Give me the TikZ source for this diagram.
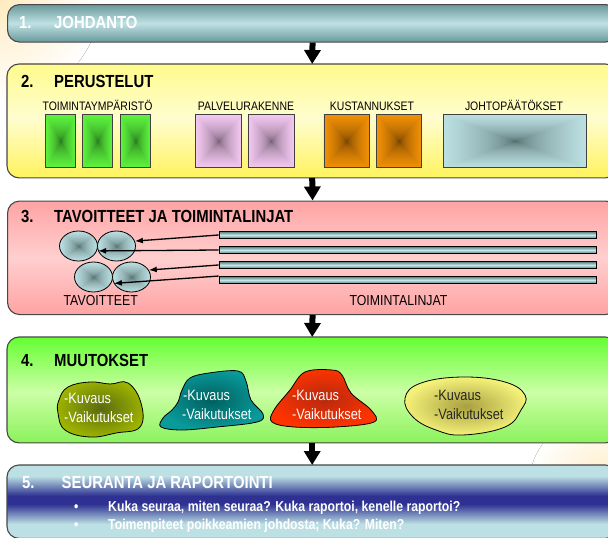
\documentclass[tikz,border=0pt]{standalone}
\usepackage{fontspec}
\setmainfont{Liberation Sans}[FakeStretch=0.85]
\usetikzlibrary{shapes.geometric,arrows.meta}
% rectangular "from centre" shading: dark centre (#2-#4) to light edge (#5-#7)
\newcommand\boxshade[7]{%
 \pgfdeclarefunctionalshading{#1}{\pgfpoint{0bp}{0bp}}{\pgfpoint{100bp}{100bp}}{}{%
 50 sub abs exch 50 sub abs 2 copy sub abs add add 2 div 25 div sqrt
 dup #5 #2 sub mul #2 add exch
 dup #6 #3 sub mul #3 add exch
 #7 #4 sub mul #4 add
 }}
\boxshade{gsh}{0.12}{0.40}{0.10}{0.37}{0.96}{0.24}
\boxshade{psh}{0.40}{0.32}{0.40}{0.96}{0.79}{0.95}
\boxshade{osh}{0.40}{0.22}{0.00}{0.95}{0.57}{0.02}
\boxshade{tsh}{0.28}{0.38}{0.38}{0.74}{0.88}{0.89}
% horizontal strips: from y #1 (colour #3) to y #2 (colour #4)
\newcommand\stripband[4]{%
 \foreach \yy in {#1,...,#2}{%
  \pgfmathtruncatemacro\pp{100*(\yy-#1)/(#2-#1)}%
  \fill[#4!\pp!#3] (0,\yy) rectangle (620,\yy+1.4);}}
\definecolor{bodark}{HTML}{6A999B}
\definecolor{bolight}{HTML}{BFE1E4}
\definecolor{yA}{HTML}{FFFB8C}
\definecolor{yB}{HTML}{FFFDD0}
\definecolor{yC}{HTML}{FFF35C}
\definecolor{rA}{HTML}{FFA3A3}
\definecolor{rB}{HTML}{FFCFCF}
\definecolor{gA}{HTML}{66FF33}
\definecolor{gB}{HTML}{CCFFA6}
\definecolor{gC}{HTML}{8AF25A}
\definecolor{fiveL}{HTML}{BCE0E3}
\definecolor{fiveD}{HTML}{2E3192}
\definecolor{bardark}{HTML}{4F7F80}
\definecolor{barlight}{HTML}{C6E7E9}
\definecolor{glow}{HTML}{FFEBC0}
\definecolor{oliveIn}{HTML}{5A6A10}
\definecolor{oliveOut}{HTML}{9DB300}
\definecolor{tealIn}{HTML}{005F5F}
\definecolor{tealOut}{HTML}{0A9A9A}
\definecolor{redIn}{HTML}{B52A10}
\definecolor{redOut}{HTML}{FF3300}
\definecolor{yelIn}{HTML}{A8A040}
\definecolor{yelOut}{HTML}{F5F27A}
\begin{document}
\begin{tikzpicture}[x=1pt,y=-1pt,
 banner/.style={draw=black!72, line width=1.1pt, rounded corners=12pt, anchor=north west, minimum width=610pt, inner sep=0pt},
 plainbanner/.style={rounded corners=12pt, anchor=north west, minimum width=610pt, inner sep=0pt},
 border/.style={draw=black!72, line width=1.1pt, rounded corners=12pt},
 num/.style={font=\fontsize{17.5}{20}\selectfont\bfseries, anchor=base west, inner sep=0pt},
 sub/.style={font=\fontsize{12.3}{14}\selectfont, anchor=base, inner sep=0pt},
 sq/.style={draw=black!75, line width=0.8pt, shade, minimum height=53pt, minimum width=#1, inner sep=0pt, anchor=north west},
 ell/.style={ellipse, draw=black, line width=0.8pt, shade, shading=tsh, minimum width=38pt, minimum height=30pt, inner sep=0pt},
 bar/.style={draw=black, line width=0.9pt, minimum width=377pt, minimum height=7pt, inner sep=0pt, top color=bardark, bottom color=bardark, middle color=barlight},
 link/.style={line width=1.3pt, -{Latex[length=8pt,width=6pt]}},
 bigarrow/.style={line width=6pt, -{Triangle[width=16pt,length=14pt]}},
 blob/.style={draw=black, line width=0.8pt},
 btxt/.style={font=\fontsize{15}{17}\selectfont, anchor=base west, inner sep=0pt},
 lbl/.style={font=\fontsize{14.5}{17}\selectfont, anchor=base, inner sep=0pt},
 bul/.style={font=\fontsize{14.4}{17}\selectfont\bfseries, anchor=base west, inner sep=0pt, text=white},
]
\clip (0,0) rectangle (608,538);
\fill[white] (0,0) rectangle (608,538);
\fill[inner color=glow, outer color=white] (0,0) circle (100);
\fill[inner color=glow, outer color=white] (608,490) circle (80);

% banners
\node[banner, minimum height=37.5pt, top color=bodark, bottom color=bodark, middle color=bolight] (b1) at (7,4) {};

\node[plainbanner, minimum height=113.5pt] (b2) at (7,64) {};
\begin{scope}
 \clip[rounded corners=12pt] (b2.north west) rectangle (b2.south east);
 \stripband{64}{118}{yA}{yB}
 \stripband{118}{178}{yB}{yC}
\end{scope}
\draw[border] (b2.north west) rectangle (b2.south east);

\node[banner, minimum height=113.5pt, top color=rA, bottom color=rA, middle color=rB] (b3) at (7,200.5) {};

\node[plainbanner, minimum height=105.5pt] (b4) at (7,337) {};
\begin{scope}
 \clip[rounded corners=12pt] (b4.north west) rectangle (b4.south east);
 \stripband{337}{392}{gA}{gB}
 \stripband{392}{443}{gB}{gC}
\end{scope}
\draw[border] (b4.north west) rectangle (b4.south east);

\node[plainbanner, minimum height=73pt] (b5) at (7,465) {};
\begin{scope}
 \clip[rounded corners=12pt] (b5.north west) rectangle (b5.south east);
 \foreach \yy in {465,...,538}{%
  \pgfmathtruncatemacro\pp{min(100,max(0,abs(\yy-500)-4)*5)}%
  \fill[fiveL!\pp!fiveD] (0,\yy) rectangle (620,\yy+1.4);}
\end{scope}
\draw[border] (b5.north west) rectangle (b5.south east);

\draw[bigarrow] (b1.south) -- (b2.north);
\draw[bigarrow] (b2.south) -- (b3.north);
\draw[bigarrow] (b3.south) -- (b4.north);
\draw[bigarrow] (b4.south) -- (b5.north);

% headers
\node[num, text=white] (n1) at (19,28.8) {1.};
\node[num, text=white] (t1) at (54,28.8) {JOHDANTO};
\node[num] (n2) at (21,87.3) {2.};
\node[num] (t2) at (54,87.3) {PERUSTELUT};
\node[num] (n3) at (21,222.3) {3.};
\node[num] (t3) at (54,222.3) {TAVOITTEET JA TOIMINTALINJAT};
\node[num] (n4) at (21,366.3) {4.};
\node[num] (t4) at (54,366.3) {MUUTOKSET};
\node[num, text=white] (n5) at (22,488.8) {5.};
\node[num, text=white] (t5) at (61.5,488.8) {SEURANTA JA RAPORTOINTI};

% box 2
\node[sub] (l1) at (97.5,110.4) {TOIMINTAYMPÄRISTÖ};
\node[sub] (l2) at (246,110.4) {PALVELURAKENNE};
\node[sub] (l3) at (372,110.4) {KUSTANNUKSET};
\node[sub] (l4) at (514,110.4) {JOHTOPÄÄTÖKSET};
\node[sq=30pt, shading=gsh] (g1) at (45,114) {};
\node[sq=30pt, shading=gsh] (g2) at (82,114) {};
\node[sq=30pt, shading=gsh] (g3) at (120,114) {};
\node[sq=46pt, shading=psh] (p1) at (195,114) {};
\node[sq=46pt, shading=psh] (p2) at (247.5,114) {};
\node[sq=45pt, shading=osh] (o1) at (323.5,114) {};
\node[sq=45pt, shading=osh] (o2) at (376,114) {};
\node[sq=143pt, shading=tsh] (j1) at (443,114) {};

% box 3
\node[ell] (e1) at (78.5,246) {};
\node[ell] (e2) at (116.5,246) {};
\node[ell] (e3) at (93.5,277) {};
\node[ell] (e4) at (131.5,277) {};
\node[bar] (bar1) at (407.5,235) {};
\node[bar] (bar2) at (407.5,250) {};
\node[bar] (bar3) at (407.5,265) {};
\node[bar] (bar4) at (407.5,280) {};
\draw[link] (bar1.west) -- (e2.15);
\draw[link] (bar2.west) -- (e2.195);
\draw[link] (bar3.west) -- (e4.22);
\draw[link] (bar4.north west) -- (e4.200);
\node[lbl] (tav) at (100.7,305.7) {TAVOITTEET};
\node[lbl] (toi) at (398.5,305.7) {TOIMINTALINJAT};

% box 4
\path[blob, inner color=oliveIn, outer color=oliveOut] plot[smooth cycle, tension=0.7] coordinates
 {(59,400) (68,387) (90,382) (110,384) (128,383) (141,403) (140,427) (116,433) (90,437) (65,430) (58,413)};
\path[blob, inner color=tealIn, outer color=tealOut] plot[smooth cycle, tension=0.6] coordinates
 {(182,390) (190,378) (209,373) (238,371) (246,381) (251,400) (263,414) (257,422) (217,427) (182,430) (161,427) (163,418) (172,410) (178,402)};
\path[blob, inner color=redIn, outer color=redOut] plot[smooth cycle, tension=0.6] coordinates
 {(290,390) (305,372) (332,370) (342,375) (351,393) (371,410) (374,422) (336,427) (294,427) (272,422) (274,410)};
\path[blob, inner color=yelIn, outer color=yelOut] plot[smooth cycle, tension=0.7] coordinates
 {(405,398) (421,383) (463,377) (505,382) (525,395) (521,410) (505,427) (463,435) (436,430) (413,417)};
\node[btxt, text=white] (k1) at (64,403.4) {-Kuvaus};
\node[btxt, text=white] (v1) at (64,422.4) {-Vaikutukset};
\node[btxt, text=white] (k2) at (183,400.4) {-Kuvaus};
\node[btxt, text=white] (v2) at (182,419.4) {-Vaikutukset};
\node[btxt, text=white] (k3) at (292,400.4) {-Kuvaus};
\node[btxt, text=white] (v3) at (292,419.4) {-Vaikutukset};
\node[btxt, text=black!85] (k4) at (434,400.4) {-Kuvaus};
\node[btxt, text=black!85] (v4) at (434,419.4) {-Vaikutukset};

% box 5
\node[bul] (d1) at (74,511) {•};
\node[bul] (s1) at (108,511) {Kuka seuraa, miten seuraa? Kuka raportoi, kenelle raportoi?};
\node[bul] (d2) at (74,529) {•};
\node[bul] (s2) at (108,529) {Toimenpiteet poikkeamien johdosta; Kuka? Miten?};
\end{tikzpicture}
\end{document}
